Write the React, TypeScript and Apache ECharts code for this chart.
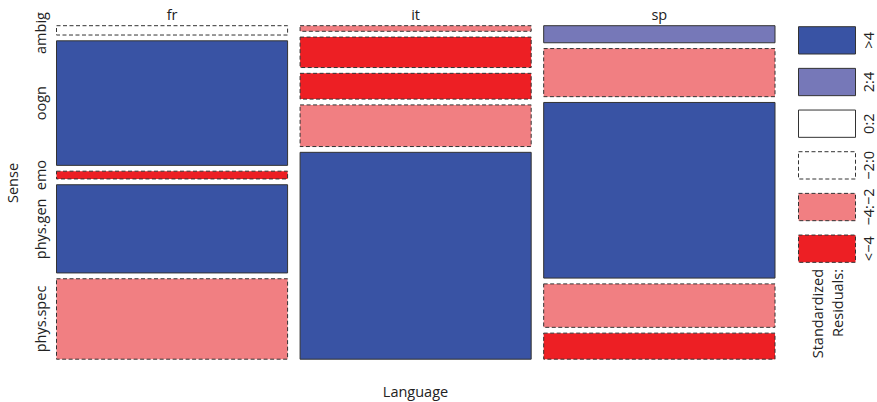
import React, { useEffect, useRef } from "react";
import * as echarts from "echarts";

const languages = ["fr", "it", "sp"];
const senses = ["ambig", "oogn", "emo", "phys.gen", "phys.spec"];
const frCounts = [3.0, 40.1, 2.5, 28.4, 25.9];
const itCounts = [1.8, 9.8, 8.3, 13.4, 66.6];
const spCounts = [5.5, 15.5, 56.6, 14.0, 8.4];
const frBands = ["-2:0", ">4", "<-4", ">4", "-4:-2"];
const itBands = ["-4:-2", "<-4", "<-4", "-4:-2", ">4"];
const spBands = ["2:4", "-4:-2", ">4", "-4:-2", "<-4"];
const bandKeys = [">4", "2:4", "0:2", "-2:0", "-4:-2", "<-4"];
const bandLabels = [">4", "2:4", "0:2", "\u22122:0", "\u22124:\u22122", "<\u22124"];
const bandColors = ["#3953a4", "#7678b8", "#ffffff", "#ffffff", "#f17f82", "#ed1f24"];
const bandDashed = [false, false, false, true, true, true];

const FONT = "'Open Sans', sans-serif";
const FS = 14.5;
const TEXT = "#222222";
const STROKE = "#333333";

export default function App() {
  const ref = useRef<HTMLDivElement>(null);
  useEffect(() => {
    if (!ref.current) return;
    const chart = echarts.init(ref.current, undefined, { renderer: "svg" });
    const counts = [frCounts, itCounts, spCounts];
    const bands = [frBands, itBands, spBands];
    const gap = 0.0174;
    const colTotals = counts.map((c) => c.reduce((a, b) => a + b, 0));
    const grand = colTotals.reduce((a, b) => a + b, 0);
    const cells: number[][] = [];
    let xs = 0;
    counts.forEach((col, li) => {
      const w = ((1 - gap * (languages.length - 1)) * colTotals[li]) / grand;
      let ys = 0;
      col.forEach((v, si) => {
        const h = ((1 - gap * (senses.length - 1)) * v) / colTotals[li];
        cells.push([xs, xs + w, ys, ys + h, bandKeys.indexOf(bands[li][si]), li, si]);
        ys += h + gap;
      });
      xs += w + gap;
    });

    const txt = (text: string, x: number, y: number, rot: number, align: string) => ({
      type: "text",
      x,
      y,
      rotation: rot,
      style: { text, fontSize: FS, fontFamily: FONT, fill: TEXT, align, verticalAlign: "middle" },
    });

    const legendGraphics: any[] = [];
    bandKeys.forEach((k, i) => {
      const y = 26.7 + i * 41.67;
      legendGraphics.push({
        type: "rect",
        shape: { x: 798.5, y, width: 57, height: 27.3 },
        style: {
          fill: bandColors[i],
          stroke: STROKE,
          lineWidth: 1,
          lineDash: bandDashed[i] ? [4, 2.5] : null,
        },
      });
      legendGraphics.push(txt(bandLabels[i], 868, y + 13.65, Math.PI / 2, "center"));
    });
    legendGraphics.push(
      txt("Standardized", 817.5, 269, Math.PI / 2, "right"),
      txt("Residuals:", 837.5, 269, Math.PI / 2, "right"),
      txt("Language", 415.5, 391, 0, "center"),
      txt("Sense", 12.5, 183, Math.PI / 2, "center")
    );

    chart.setOption({
      animation: false,
      grid: { left: 56.5, top: 25.7, width: 718.5, height: 333.5 },
      xAxis: { type: "value", min: 0, max: 1, show: false },
      yAxis: { type: "value", min: 0, max: 1, inverse: true, show: false },
      graphic: legendGraphics,
      series: [
        {
          type: "custom",
          data: cells,
          renderItem: (params: any, api: any) => {
            const x0 = api.value(0), x1 = api.value(1), y0 = api.value(2), y1 = api.value(3);
            const b = api.value(4), li = api.value(5), si = api.value(6);
            const p0 = api.coord([x0, y0]);
            const p1 = api.coord([x1, y1]);
            const children: any[] = [
              {
                type: "rect",
                shape: { x: p0[0], y: p0[1], width: p1[0] - p0[0], height: p1[1] - p0[1] },
                style: {
                  fill: bandColors[b],
                  stroke: STROKE,
                  lineWidth: 1,
                  lineDash: bandDashed[b] ? [4, 2.5] : null,
                },
              },
            ];
            if (li === 0) {
              const cy = Math.max((p0[1] + p1[1]) / 2, 33);
              children.push(txt(senses[si], p0[0] - 16, cy, Math.PI / 2, "center"));
            }
            if (si === 0) {
              children.push(txt(languages[li], (p0[0] + p1[0]) / 2, p0[1] - 11.5, 0, "center"));
            }
            return { type: "group", children };
          },
        },
      ],
    });
    return () => chart.dispose();
  }, []);
  return <div ref={ref} style={{ position: "absolute", left: 0, top: 0, width: 877, height: 402 }} />;
}
